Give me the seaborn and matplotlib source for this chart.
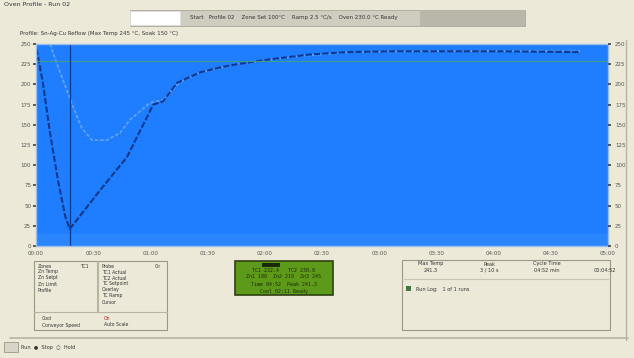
import numpy as np
import pandas as pd
import matplotlib.pyplot as plt
import matplotlib.patches as mpatches
import seaborn as sns

# --- data ---
# x in hours, y in degrees
profile_x = [0.01, 0.12, 0.245, 0.385, 0.51, 0.59, 1.12, 1.59, 2.05, 2.22, 2.47,
             2.87, 3.22, 3.51, 4.09, 4.79, 5.44, 6.31, 8.11, 9.51]
profile_y = [244, 202, 140, 81, 37, 21, 69, 110, 175, 179, 202,
             215, 221, 225, 231, 237, 240, 241, 241, 240]

setpoint_x = [0.245, 0.42, 0.65, 0.80, 0.98, 1.24, 1.47, 1.64, 1.99, 2.22, 2.52,
              2.87, 3.57, 4.6, 5.49, 6.71, 8.11, 9.51]
setpoint_y = [250, 215, 172, 146, 131, 131, 140, 156, 177, 181, 203,
              215, 226, 235, 240, 241, 241.5, 241]

x_ticks = list(range(0, 11))
x_labels = ['00:00', '00:30', '01:00', '01:30', '02:00', '02:30',
            '03:00', '03:30', '04:00', '04:30', '05:00']
y_ticks = list(range(0, 251, 25))
y_labels = [str(v) for v in y_ticks]

marker_x = 0.59      # vertical cursor
limit_y = 229        # horizontal limit line

bg = '#ECE9D8'
plot_blue = '#1F7DFF'

sns.set_theme(style='white')
plt.rcParams['font.family'] = ['DejaVu Sans']

fig = plt.figure(figsize=(6.34, 3.58), dpi=100, facecolor=bg)
W, H = 634, 358

def px_axes(x0, y0, x1, y1):
    return fig.add_axes([x0 / W, 1 - y1 / H, (x1 - x0) / W, (y1 - y0) / H])

ax = px_axes(36, 44, 608, 246)
ax.set_facecolor(plot_blue)

df1 = pd.DataFrame({'t': profile_x, 'temp': profile_y})
df2 = pd.DataFrame({'t': setpoint_x, 'temp': setpoint_y})
sns.lineplot(data=df2, x='t', y='temp', ax=ax, color='#5FA3FF', lw=1.3,
             linestyle=(0, (2, 1)), sort=False)
sns.lineplot(data=df1, x='t', y='temp', ax=ax, color='#0D3990', lw=1.5,
             linestyle=(0, (3, 1)), sort=False)

ax.axhspan(0, 15, color='#2A86FF', lw=0)
ax.axhline(limit_y, color='#3FA08A', lw=0.8)
ax.axvline(marker_x, color='#0B3A8C', lw=0.9)

ax.set_xlim(0, 10)
ax.set_ylim(0, 250)
ax.set_xticks(x_ticks)
ax.set_xticklabels(x_labels, fontsize=4, color='#555555')
ax.set_yticks(y_ticks)
ax.set_yticklabels(y_labels, fontsize=4, color='#555555')
ax.tick_params(axis='both', length=2, pad=1.5, color='#444444')
ax.set_xlabel('')
ax.set_ylabel('')
for s in ax.spines.values():
    s.set_color('#9ABFEF')
    s.set_linewidth(1.0)

ax2 = ax.twinx()
ax2.set_ylim(0, 250)
ax2.set_yticks(y_ticks)
ax2.set_yticklabels(y_labels, fontsize=4, color='#555555')
ax2.tick_params(axis='y', length=2, pad=3, color='#444444')
ax2.grid(False)
for s in ax2.spines.values():
    s.set_visible(False)

# --- window decoration around the chart ---
deco = fig.add_axes([0, 0, 1, 1], zorder=-1)
deco.set_xlim(0, W)
deco.set_ylim(H, 0)
deco.axis('off')
deco.patch.set_alpha(0)

def rect(x0, y0, x1, y1, **kw):
    deco.add_patch(mpatches.Rectangle((x0, y0), x1 - x0, y1 - y0, **kw))

def txt(x, y, s, size=4, **kw):
    deco.text(x, y, s, fontsize=size, color=kw.pop('color', '#333333'),
              va='center', **kw)

txt(4, 5, 'Oven Profile - Run 02', size=4.5)
rect(130, 10, 525, 26, facecolor='#CFCCC0', edgecolor='#A9A69A', lw=0.6)
rect(420, 10, 525, 26, facecolor='#B9B6AA', lw=0)
rect(130, 11, 180, 25, facecolor='white', edgecolor='#DDDDDD', lw=0.5)
txt(190, 18, 'Start   Profile 02    Zone Set 100°C    Ramp 2.5 °C/s    Oven 230.0 °C Ready')
txt(20, 33, 'Profile: Sn-Ag-Cu Reflow (Max Temp 245 °C, Soak 150 °C)')

# right window edge
deco.plot([626, 626], [40, 340], color='#B8B4A4', lw=1)
deco.plot([10, 628], [338, 338], color='#B8B4A4', lw=1.2)

# left legend panel
rect(34, 261, 167, 330, facecolor='none', edgecolor='#9C9887', lw=0.8)
deco.plot([98, 98], [262, 312], color='#B8B4A4', lw=1.5)
deco.plot([34, 167], [312, 312], color='#B8B4A4', lw=0.8)
left_items = ['Zones', 'Zn Temp', 'Zn Setpt', 'Zn Limit', 'Profile']
for i, s in enumerate(left_items):
    txt(38, 266 + i * 6, s, size=3.3)
txt(80, 266, 'TC1', size=3.3)
right_items = ['Probe', 'TC1 Actual', 'TC2 Actual', 'TC Setpoint', 'Overlay', 'TC Ramp', 'Cursor']
for i, s in enumerate(right_items):
    txt(102, 266 + i * 6, s, size=3.3)
txt(155, 266, 'Clr', size=3.3)
txt(42, 318, 'Cool', size=3.3)
txt(42, 325, 'Conveyor Speed', size=3.3)
txt(104, 318, 'On', size=3.3, color='#AA2222')
txt(104, 325, 'Auto Scale', size=3.3)

# green LCD
rect(235, 261, 333, 295, facecolor='#5E9A1A', edgecolor='#2E3E12', lw=1.2)
rect(262, 263, 280, 267, facecolor='#1A2A08', lw=0)
lcd = ['TC1 232.4   TC2 230.9', 'Zn1 180  Zn2 210  Zn3 245', 'Time 04:52  Peak 241.3', 'Cool 02:11 Ready']
for i, s in enumerate(lcd):
    deco.text(284, 270 + i * 7, s, fontsize=3.6, color='#1B2A05', ha='center', va='center',
              family='DejaVu Sans Mono')

# right stats panel
rect(402, 260, 610, 330, facecolor='none', edgecolor='#9C9887', lw=0.8)
deco.plot([404, 608], [279, 279], color='#C8C4B4', lw=0.8)
heads = ['Max Temp', 'Peak', 'Cycle Time', '']
vals = ['241.3', '3 / 10 s', '04:52 min', '00:04:52']
for i, (h, v) in enumerate(zip(heads, vals)):
    deco.text(431 + i * 58, 264, h, fontsize=3.6, ha='center', va='center', color='#333333')
    deco.text(431 + i * 58, 270, v, fontsize=3.6, ha='center', va='center', color='#333333')
rect(406, 286, 411, 291, facecolor='#3E7A3E', lw=0)
txt(416, 289, 'Run Log:   1 of 1 runs', size=3.6)

# status bar
rect(4, 342, 18, 352, facecolor='#D8D5C8', edgecolor='#9C9887', lw=0.6)
txt(21, 347, 'Run  ●  Stop  ○  Hold', size=3.6)

fig.savefig('out.png', dpi=100, facecolor=bg)
